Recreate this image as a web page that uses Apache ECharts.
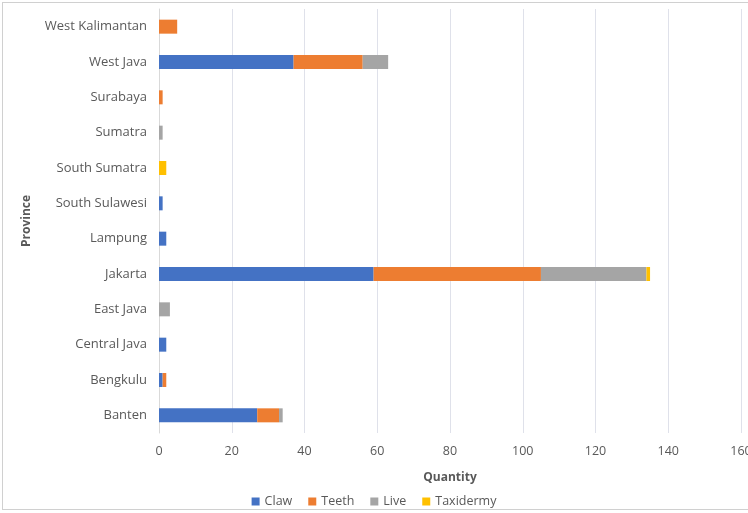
<!DOCTYPE html>
<html><head><meta charset="utf-8">
<script src="https://cdn.jsdelivr.net/npm/echarts@6/dist/echarts.min.js"></script>
<style>
html,body{margin:0;padding:0;background:#fff;overflow:hidden;width:748px;height:513px;}
#frame{position:absolute;left:2px;top:2px;width:746px;height:508px;border:1px solid #d0d0d0;border-right:none;box-sizing:border-box;}
#chart{position:absolute;left:0;top:0;width:748px;height:513px;}
</style></head>
<body>
<div id="frame"></div>
<div id="chart"></div>
<script>
const provinces = ["Banten","Bengkulu","Central Java","East Java","Jakarta","Lampung","South Sulawesi","South Sumatra","Sumatra","Surabaya","West Java","West Kalimantan"];
const claw      = [27, 1, 2, 0, 59, 2, 1, 0, 0, 0, 37, 0];
const teeth     = [6, 1, 0, 0, 46, 0, 0, 0, 0, 1, 19, 5];
const live      = [1, 0, 0, 3, 29, 0, 0, 0, 1, 0, 7, 0];
const taxidermy = [0, 0, 0, 0, 1, 0, 0, 2, 0, 0, 0, 0];
const xTicks = {min: 0, max: 160, interval: 20};

const font = "'Open Sans', 'Liberation Sans', sans-serif";
const chart = echarts.init(document.getElementById('chart'), null, {renderer: 'canvas', width: 748, height: 513});
function s(name, data, color) {
  return {name, type: 'bar', stack: 'total', data, barWidth: 14,
    itemStyle: {color}, emphasis: {disabled: true}};
}
chart.setOption({
  animation: false,
  textStyle: {fontFamily: font},
  grid: {left: 159, right: 7, top: 9, bottom: 80, containLabel: false, outerBoundsMode: 'none'},
  xAxis: {
    type: 'value', min: xTicks.min, max: xTicks.max, interval: xTicks.interval,
    name: 'Quantity', nameLocation: 'middle', nameGap: 39,
    nameTextStyle: {color: '#595959', fontSize: 12, fontWeight: 'bold', fontFamily: font},
    axisLine: {show: false}, axisTick: {show: false},
    axisLabel: {color: '#595959', fontSize: 12.5, margin: 12, fontFamily: font},
    splitLine: {lineStyle: {color: '#dfe1ea', width: 1}}
  },
  yAxis: {
    type: 'category', data: provinces,
    name: 'Province', nameLocation: 'middle', nameGap: 126, nameRotate: 90,
    nameTextStyle: {color: '#595959', fontSize: 12, fontWeight: 'bold', fontFamily: font},
    axisLine: {show: true, lineStyle: {color: '#d9d9d9'}}, axisTick: {show: false},
    axisLabel: {color: '#595959', fontSize: 13, margin: 12, fontFamily: font}
  },
  legend: {
    bottom: 0, left: 'center', itemWidth: 8, itemHeight: 8, itemGap: 16,
    icon: 'rect', textStyle: {color: '#595959', fontSize: 12.5, fontFamily: font},
    data: ['Claw','Teeth','Live','Taxidermy']
  },
  series: [
    s('Claw', claw, '#4472C4'),
    s('Teeth', teeth, '#ED7D31'),
    s('Live', live, '#A5A5A5'),
    s('Taxidermy', taxidermy, '#FFC000')
  ]
});
</script>
</body></html>
